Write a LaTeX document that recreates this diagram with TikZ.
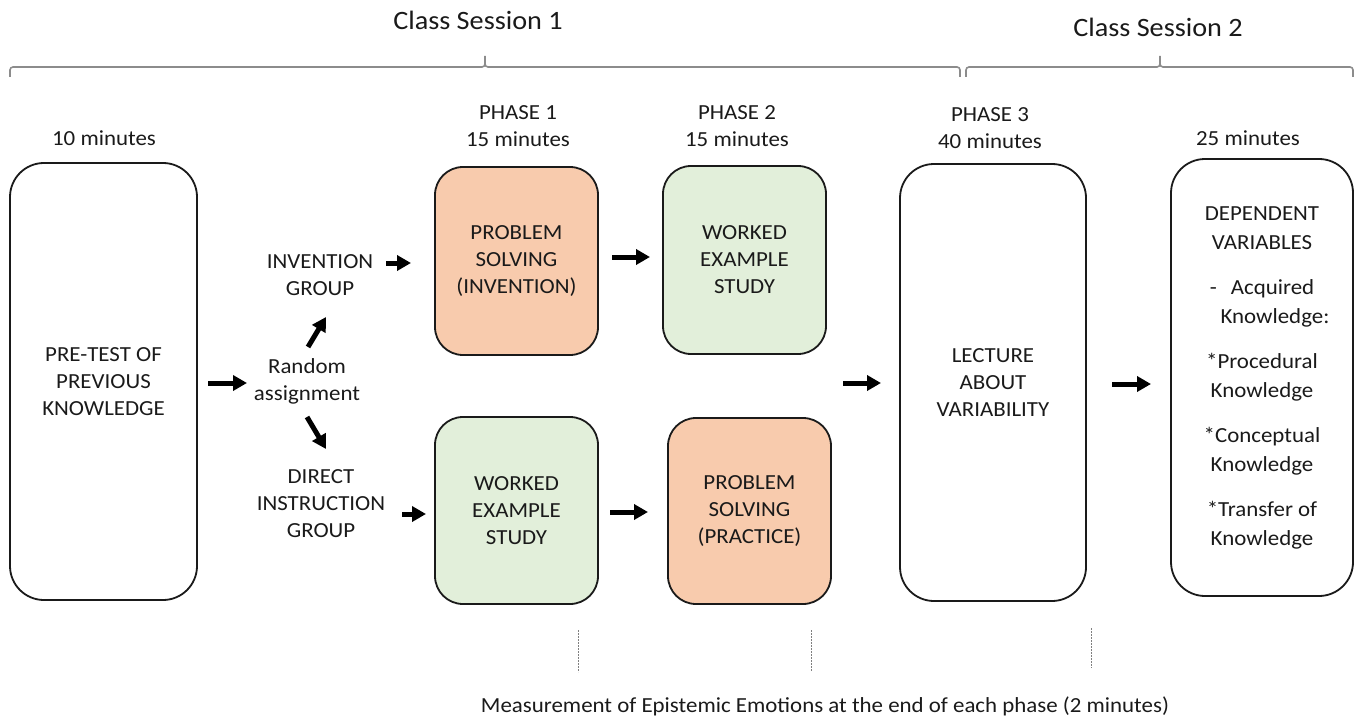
\documentclass[tikz,border=0pt]{standalone}
\usepackage{fontspec}
\setmainfont{Carlito}[FakeStretch=1.065]
\usetikzlibrary{arrows.meta}
\definecolor{orangefill}{HTML}{F8CBAD}
\definecolor{greenfill}{HTML}{E2EFDA}
\definecolor{bracegray}{HTML}{8C8C8C}
\definecolor{boxline}{HTML}{1A1A1A}
\definecolor{txtcol}{HTML}{1A1A1A}
\begin{document}
\begin{tikzpicture}[x=1pt,y=-1pt,
  txt/.style={font=\fontsize{21.5}{27}\selectfont, align=center, text=txtcol, inner sep=0pt},
  title/.style={txt, font=\fontsize{26.5}{30}\selectfont},
  tallbox/.style={txt, draw=boxline, line width=1.8pt, rounded corners=34pt, minimum width=#1, minimum height=437pt},
  phasebox/.style={txt, draw=boxline, line width=1.8pt, rounded corners=28pt, minimum width=163pt, minimum height=188pt},
  arr/.style={line width=5pt, -{Triangle[length=14pt,width=15pt]}, black},
  brace/.style={draw=bracegray, line width=1.6pt},
  meas/.style={draw=gray, line width=0.8pt, dash pattern=on 2pt off 1pt},
]
\useasboundingbox (0,0) rectangle (1359,722);

% titles
\node[title] (cs1) at (478,20) {Class Session 1};
\node[title] (cs2) at (1158,27) {Class Session 2};

% braces
\draw[brace] (10,77) -- (10,70) arc[start angle=180,end angle=90,radius=3pt] -- (482,67) arc[start angle=270,end angle=360,radius=3pt] -- (485,56)
  (485,64) arc[start angle=180,end angle=270,radius=3pt] -- (957,67) arc[start angle=90,end angle=0,radius=3pt] -- (960,77);
\draw[brace] (966,77) -- (966,70) arc[start angle=180,end angle=90,radius=3pt] -- (1157,67) arc[start angle=270,end angle=360,radius=3pt] -- (1160,56)
  (1160,64) arc[start angle=180,end angle=270,radius=3pt] -- (1350,67) arc[start angle=90,end angle=0,radius=3pt] -- (1353,77);

% time labels
\node[txt] (t0) at (104,138) {10 minutes};
\node[txt] (t1) at (518,126.5) {PHASE 1\\15 minutes};
\node[txt] (t2) at (737,126.5) {PHASE 2\\15 minutes};
\node[txt] (t3) at (990,128.5) {PHASE 3\\40 minutes};
\node[txt] (t4) at (1248,138) {25 minutes};

% boxes
\node[tallbox=187pt] (pre) at (103.5,381.5) {PRE-TEST OF\\PREVIOUS\\KNOWLEDGE};
\node[phasebox, fill=orangefill] (p1a) at (516.5,261) {PROBLEM\\SOLVING\\(INVENTION)};
\node[phasebox, fill=greenfill] (p2a) at (744.5,260) {WORKED\\EXAMPLE\\STUDY};
\node[phasebox, fill=greenfill, minimum height=187pt] (p1b) at (516.5,510.5) {WORKED\\EXAMPLE\\STUDY};
\node[phasebox, fill=orangefill, minimum height=186pt] (p2b) at (749.5,511) {PROBLEM\\SOLVING\\(PRACTICE)};
\node[tallbox=186pt] (lec) at (993,382.5) {LECTURE\\ABOUT\\VARIABILITY};
\node[tallbox=182pt, font=\fontsize{21.5}{29}\selectfont] (dep) at (1262,377.5)
  {DEPENDENT\\VARIABLES\\[16pt]-\hspace{14pt}Acquired\\\hspace{26pt}Knowledge:\\[16pt]*Procedural\\Knowledge\\[16pt]*Conceptual\\Knowledge\\[16pt]*Transfer of\\Knowledge};

% group labels
\node[txt] (inv) at (320,275.5) {INVENTION\\GROUP};
\node[txt] (rnd) at (307,381.5) {Random\\assignment};
\node[txt] (dir) at (321,504) {DIRECT\\INSTRUCTION\\GROUP};

% arrow end points
\coordinate (a0s) at (208,383); \coordinate (a0e) at (247,383);
\coordinate (aus) at (308,347); \coordinate (aue) at (326,317);
\coordinate (ads) at (307,417); \coordinate (ade) at (326,449);
\coordinate (ais) at (386,263); \coordinate (aie) at (411,263);
\coordinate (ads2) at (402,514); \coordinate (ade2) at (426,514);
\coordinate (a1s) at (612,257); \coordinate (a1e) at (650,257);
\coordinate (a2s) at (610,512); \coordinate (a2e) at (648,512);
\coordinate (a3s) at (843,383); \coordinate (a3e) at (881,383);
\coordinate (a4s) at (1112,384); \coordinate (a4e) at (1151,384);

\draw[arr] (a0s) -- (a0e);
\draw[arr] (aus) -- (aue);
\draw[arr] (ads) -- (ade);
\draw[arr] (ais) -- (aie);
\draw[arr] (ads2) -- (ade2);
\draw[arr] (a1s) -- (a1e);
\draw[arr] (a2s) -- (a2e);
\draw[arr] (a3s) -- (a3e);
\draw[arr] (a4s) -- (a4e);

% measurement lines
\coordinate (m1t) at (578,630); \coordinate (m1b) at (578,672);
\coordinate (m2t) at (811,630); \coordinate (m2b) at (811,671);
\coordinate (m3t) at (1091,628); \coordinate (m3b) at (1091,668);
\draw[meas] (m1t) -- (m1b);
\draw[meas] (m2t) -- (m2b);
\draw[meas] (m3t) -- (m3b);
\node[txt] (mtxt) at (825,706) {Measurement of Epistemic Emotions at the end of each phase (2 minutes)};
\end{tikzpicture}
\end{document}
